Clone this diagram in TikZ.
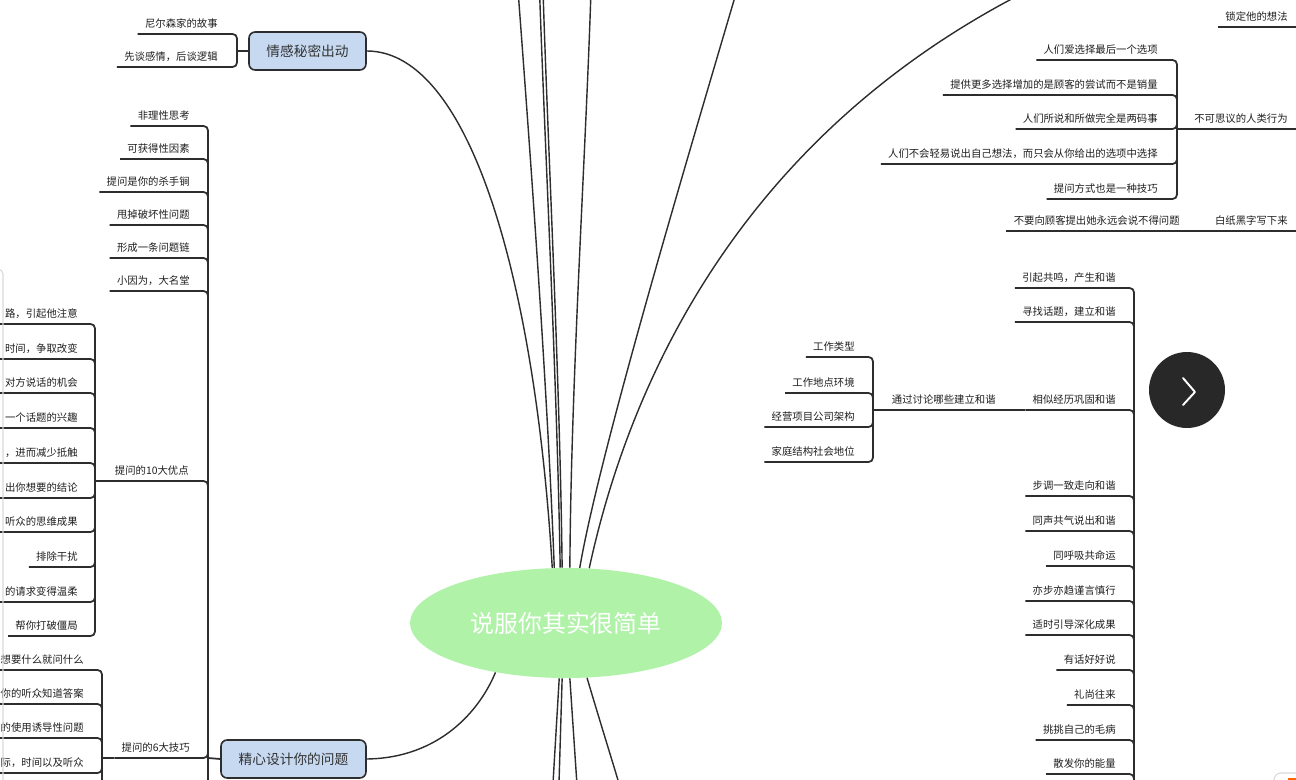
\documentclass[tikz,border=0pt]{standalone}
\usepackage{fontspec}
\setmainfont{Noto Sans CJK SC}
\usepackage{tikz}
\usetikzlibrary{shapes.geometric}
\definecolor{topicblue}{RGB}{198,217,241}
\definecolor{rootgreen}{RGB}{175,242,168}
\definecolor{linegray}{RGB}{45,45,45}
\definecolor{btndark}{RGB}{40,40,40}

\begin{document}
\begin{tikzpicture}[x=0.02cm, y=-0.02cm, leaf/.style={anchor=south east, inner xsep=0pt, inner ysep=0pt, text depth=3.6pt, font=\fontsize{5.9}{7}\selectfont, text=black!88}, topic/.style={draw=linegray, line width=0.9pt, fill=topicblue, rounded corners=3.5pt, minimum height=0.76cm, inner sep=0pt, font=\fontsize{7.8}{9}\selectfont, text=black!80}, link/.style={draw=linegray, line width=1pt, rounded corners=2.5pt}, twig/.style={link, to path={([xshift=-4pt]\tikztostart.south west) -- (\tikztostart.south west -| \tikztotarget) -- (\tikztotarget)}}, spoke/.style={draw=linegray, line width=0.8pt}]
\useasboundingbox (0,0) rectangle (1296,780);
\clip (0,0) rectangle (1296,780);
\fill[white] (0,0) rectangle (1296,780);
% centre and main topics
\node[ellipse, fill=rootgreen, minimum width=6.24cm, minimum height=2.2cm, inner sep=0pt, text=white, font=\fontsize{13.6}{16}\selectfont] (root) at (566,623) {说服你其实很简单};
\node[topic, minimum width=2.34cm] (emo) at (307.5,51) {情感秘密出动};
\node[topic, minimum width=2.9cm] (ask) at (293.5,759) {精心设计你的问题};
% bracket joints
\coordinate (emoj) at (237,51);
\coordinate (askj) at (208,758);
\coordinate (askend) at (208,800);
\coordinate (tenj) at (95,481);
\coordinate (sixj) at (102,758);
\coordinate (sixend) at (102,800);
\coordinate (oddj) at (1177,129);
\coordinate (penj) at (1199,231);
\coordinate (edgej) at (1310,130);
\coordinate (harmj) at (1134,800);
\coordinate (talkj) at (873,410);
% left side
\node[leaf] (emo1) at (218,34) {尼尔森家的故事};
\node[leaf] (emo2) at (218,67) {先谈感情，后谈逻辑};
\node[leaf] (ask1) at (190,126) {非理性思考};
\node[leaf] (ask2) at (190,159) {可获得性因素};
\node[leaf] (ask3) at (190,192) {提问是你的杀手锏};
\node[leaf] (ask4) at (190,225) {甩掉破坏性问题};
\node[leaf] (ask5) at (190,258) {形成一条问题链};
\node[leaf] (ask6) at (190,291) {小因为，大名堂};
\node[leaf] (ask7) at (189,481) {提问的10大优点};
\node[leaf] (ask8) at (190,758) {提问的6大技巧};
\node[leaf] (ten1) at (78,324) {路，引起他注意};
\node[leaf] (ten2) at (78,359) {时间，争取改变};
\node[leaf] (ten3) at (78,393) {对方说话的机会};
\node[leaf] (ten4) at (78,428) {一个话题的兴趣};
\node[leaf] (ten5) at (78,463) {，进而减少抵触};
\node[leaf] (ten6) at (78,498) {出你想要的结论};
\node[leaf] (ten7) at (78,532) {听众的思维成果};
\node[leaf] (ten8) at (78,567) {排除干扰};
\node[leaf] (ten9) at (78,602) {的请求变得温柔};
\node[leaf] (ten10) at (78,636) {帮你打破僵局};
\node[leaf] (six1) at (84,670) {想要什么就问什么};
\node[leaf] (six2) at (84,704) {你的听众知道答案};
\node[leaf] (six3) at (84,738) {的使用诱导性问题};
\node[leaf] (six4) at (84,773) {际，时间以及听众};
% right side
\node[leaf] (lock) at (1288,27) {锁定他的想法};
\node[leaf] (odd0) at (1288,129) {不可思议的人类行为};
\node[leaf] (odd1) at (1158,60) {人们爱选择最后一个选项};
\node[leaf] (odd2) at (1158,95) {提供更多选择增加的是顾客的尝试而不是销量};
\node[leaf] (odd3) at (1158,129) {人们所说和所做完全是两码事};
\node[leaf] (odd4) at (1158,164) {人们不会轻易说出自己想法，而只会从你给出的选项中选择};
\node[leaf] (odd5) at (1158,199) {提问方式也是一种技巧};
\node[leaf] (pen0) at (1288,231) {白纸黑字写下来};
\node[leaf] (pen1) at (1180,231) {不要向顾客提出她永远会说不得问题};
\node[leaf] (harm1) at (1116,288) {引起共鸣，产生和谐};
\node[leaf] (harm2) at (1116,322) {寻找话题，建立和谐};
\node[leaf] (harm3) at (1116,410) {相似经历巩固和谐};
\node[leaf] (harm4) at (1116,496) {步调一致走向和谐};
\node[leaf] (harm5) at (1116,531) {同声共气说出和谐};
\node[leaf] (harm6) at (1116,566) {同呼吸共命运};
\node[leaf] (harm7) at (1116,601) {亦步亦趋谨言慎行};
\node[leaf] (harm8) at (1116,635) {适时引导深化成果};
\node[leaf] (harm9) at (1116,670) {有话好好说};
\node[leaf] (harm10) at (1116,705) {礼尚往来};
\node[leaf] (harm11) at (1116,740) {挑挑自己的毛病};
\node[leaf] (harm12) at (1116,774) {散发你的能量};
\node[leaf] (talk0) at (996,410) {通过讨论哪些建立和谐};
\node[leaf] (talk1) at (855,357) {工作类型};
\node[leaf] (talk2) at (855,393) {工作地点环境};
\node[leaf] (talk3) at (855,427) {经营项目公司架构};
\node[leaf] (talk4) at (855,462) {家庭结构社会地位};
% brackets
\foreach \n in {emo1,emo2} \draw[twig] (\n) to (emoj);
\draw[link] (emoj) -- (emo.west);
\foreach \i in {1,...,8} \draw[twig] (ask\i) to (askj);
\draw[link] (askj) -- (askend);
\draw[link] (askj) -- (ask.west);
\foreach \i in {1,...,10} \draw[twig] (ten\i) to (tenj);
\draw[link] (tenj) -- ([xshift=-4pt]ask7.south west);
\foreach \i in {1,...,4} \draw[twig] (six\i) to (sixj);
\draw[link] (sixj) -- (sixend);
\draw[link] (sixj) -- ([xshift=-4pt]ask8.south west);
\foreach \i in {1,...,5} \draw[twig] (odd\i) to (oddj);
\draw[link] (oddj) -- ([xshift=-4pt]odd0.south west);
\foreach \n in {lock,odd0} \draw[twig] (\n) to (edgej);
\draw[link] ([xshift=-4pt]pen1.south west) -- (penj) -- (pen0.south west) -- (pen0.south east -| edgej);
\foreach \i in {1,...,12} \draw[twig] (harm\i) to (harmj);
\foreach \i in {1,...,4} \draw[twig] (talk\i) to (talkj);
\draw[link] (talkj) -- ([xshift=-4pt]harm3.south west);
% spokes from the centre
\coordinate (up1) at (518,-10);
\coordinate (up2) at (539.5,-10);
\coordinate (up3) at (543,-10);
\coordinate (up4) at (591,-10);
\coordinate (up5) at (737,-10);
\coordinate (up6) at (1060,-25);
\coordinate (down1) at (552,800);
\coordinate (down2) at (558.5,800);
\coordinate (down3) at (578,800);
\coordinate (down4) at (624,800);
\draw[spoke] (root.104) .. controls (535,280) and (470,51) .. (emo.east);
\draw[spoke] (root.102) .. controls (547,380) and (530,150) .. (up1);
\draw[spoke] (root.96) .. controls (557,380) and (545,150) .. (up2);
\draw[spoke] (root.94) .. controls (560,380) and (548,150) .. (up3);
\draw[spoke] (root.86) .. controls (571,380) and (586,150) .. (up4);
\draw[spoke] (root.76) .. controls (600,450) and (690,150) .. (up5);
\draw[spoke] (root.67) .. controls (630,380) and (745,120) .. (up6);
\draw[spoke] (root.215) .. controls (480,710) and (440,758) .. (ask.east);
\draw[spoke] (root.263) -- (down1);
\draw[spoke] (root.266) -- (down2);
\draw[spoke] (root.274) -- (down3);
\draw[spoke] (root.291) .. controls (598,715) and (612,760) .. (down4);
% screen widgets
\node[circle, fill=btndark, minimum size=1.52cm, inner sep=0pt] (next) at (1187,390) {};
\draw[white, line width=1.1pt, line cap=round, line join=round] ([shift={(-4,-12)}]next.center) -- ([shift={(8,2)}]next.center) -- ([shift={(-4,15)}]next.center);
\draw[black!15, line width=0.6pt, rounded corners=3pt] (-10,269) -- (3,269) -- (3,790);
\draw[black!15, line width=0.6pt, rounded corners=4pt, fill=white] (1274,773) rectangle (1310,800);
\fill[orange!80!red] (1288,778) rectangle (1300,790);
\end{tikzpicture}
\end{document}
